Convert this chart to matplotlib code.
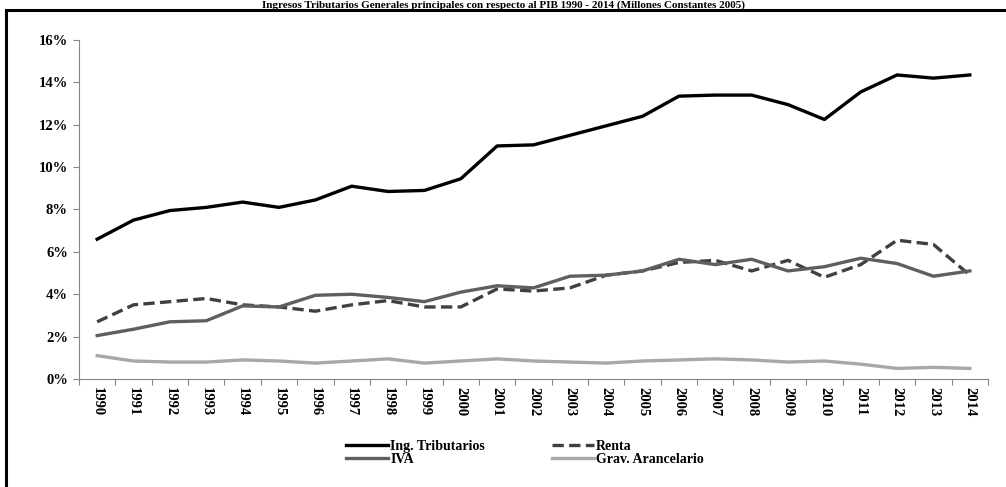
import matplotlib
matplotlib.use("Agg")
import matplotlib.pyplot as plt
from matplotlib.patches import Rectangle
from matplotlib.ticker import FuncFormatter

# data (% del PIB)
years = [str(y) for y in range(1990, 2015)]

ing_tributarios = [6.6, 7.5, 7.95, 8.1, 8.35, 8.1, 8.45, 9.1, 8.85, 8.9,
                   9.45, 11.0, 11.05, 11.5, 11.95, 12.4, 13.35, 13.4, 13.4, 12.95,
                   12.25, 13.55, 14.35, 14.2, 14.35]
renta = [2.7, 3.5, 3.65, 3.8, 3.5, 3.4, 3.2, 3.5, 3.7, 3.4,
         3.4, 4.25, 4.15, 4.3, 4.9, 5.1, 5.5, 5.6, 5.1, 5.6,
         4.8, 5.4, 6.55, 6.35, 4.9]
iva = [2.05, 2.35, 2.7, 2.75, 3.45, 3.4, 3.95, 4.0, 3.85, 3.65,
       4.1, 4.4, 4.3, 4.85, 4.9, 5.1, 5.65, 5.4, 5.65, 5.1,
       5.3, 5.7, 5.45, 4.85, 5.1]
grav_arancelario = [1.1, 0.85, 0.8, 0.8, 0.9, 0.85, 0.75, 0.85, 0.95, 0.75,
                    0.85, 0.95, 0.85, 0.8, 0.75, 0.85, 0.9, 0.95, 0.9, 0.8,
                    0.85, 0.7, 0.5, 0.55, 0.5]

title = "Ingresos Tributarios Generales principales con respecto al PIB 1990 - 2014 (Millones Constantes 2005)"

plt.rcParams['font.family'] = ['Liberation Serif', 'DejaVu Serif']
plt.rcParams['font.weight'] = 'bold'

fig = plt.figure(figsize=(10.06, 4.87), dpi=100)
ax = fig.add_axes([79/1006, 108/487, 909/1006, 339/487])

x = list(range(len(years)))
l1, = ax.plot(x, ing_tributarios, color="black", lw=2.4, label="Ing. Tributarios")
l2, = ax.plot(x, renta, color="#404040", lw=2.4, dashes=(3.4, 1.6), label="Renta")
l3, = ax.plot(x, iva, color="#5f5f5f", lw=2.4, label="IVA")
l4, = ax.plot(x, grav_arancelario, color="#a8a8a8", lw=2.4, label="Grav. Arancelario")

ax.set_xlim(-0.5, len(years) - 0.5)
ax.set_ylim(0, 16)
ax.set_yticks(range(0, 17, 2))
ax.yaxis.set_major_formatter(FuncFormatter(lambda v, p: "%d%%" % v))

# category axis: ticks between categories, labels centered
ax.set_xticks([i - 0.5 for i in range(len(years) + 1)])
ax.set_xticklabels([])
ax.set_xticks(x, minor=True)
ax.set_xticklabels(years, minor=True, rotation=270, fontsize=10.5, fontweight='bold')
ax.tick_params(axis='x', which='minor', length=0, pad=6)
ax.tick_params(axis='x', which='major', length=4, color="#868686")
ax.tick_params(axis='y', length=4, color="#868686", labelsize=10.5, pad=4)
for lab in ax.get_yticklabels():
    lab.set_fontweight('bold')

ax.spines['top'].set_visible(False)
ax.spines['right'].set_visible(False)
ax.spines['left'].set_color("#868686")
ax.spines['bottom'].set_color("#868686")

fig.legend([l1, l3, l2, l4], [l1.get_label(), l3.get_label(), l2.get_label(), l4.get_label()],
           ncol=2, loc='center', bbox_to_anchor=(525/1006, (487-453)/487),
           frameon=False, handlelength=3.0, handletextpad=0.2, columnspacing=4.8,
           labelspacing=0.05, prop={'weight': 'bold', 'size': 10})

# outer frame
fig.patches.append(Rectangle((6/1006, -0.1), 1.2, (487-10)/487 + 0.1, transform=fig.transFigure,
                             fill=False, lw=2.2, edgecolor="black"))

# title at the very top
fig.text(0.5, 0.999, title, ha='center', va='top', fontsize=8, fontweight='bold')

fig.savefig("out.png", dpi=100)
